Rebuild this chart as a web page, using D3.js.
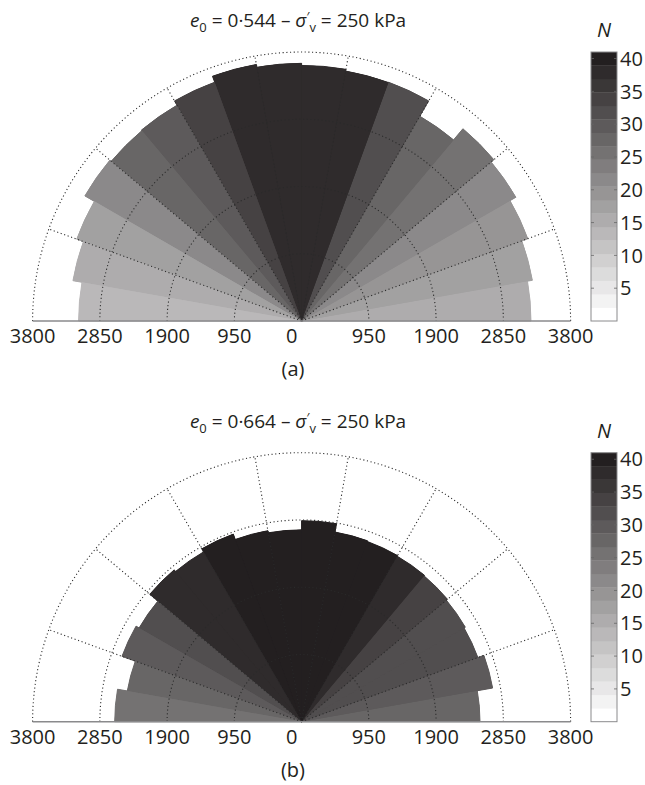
<!DOCTYPE html>
<html><head><meta charset="utf-8">
<script src="https://cdn.jsdelivr.net/npm/d3@7"></script>
<style>
body{margin:0;background:#fff}
text{font-family:'Open Sans',sans-serif;fill:#231f20}
</style>
</head><body>
<svg id="chart" width="645" height="785"></svg>
<script>
// ---- data ----
const binEdges = [0,10,20,30,40,50,60,70,80,90,100,110,120,130,140,150,160,170,180];
const radiusA = [3240,3310,3400,3495,3545,3340,3590,3585,3610,3640,3680,3590,3520,3510,3535,3380,3280,3150];
const countA  = [15,17,19,21,25,27,32,38,38,38,38,33,29,27,21,17,16,14];
const radiusB = [2520,2740,2650,2670,2690,2700,2710,2720,2840,2710,2740,2820,2770,2800,2650,2700,2500,2640];
const countB  = [27,29,31,32,34,37,40,40,40,40,40,40,38,38,32,30,28,26];
const ringValues = [950,1900,2850,3800];
const spokeAngles = [20,40,60,80,100,120,140,160];
const axisTicks = [-3800,-2850,-1900,-950,0,950,1900,2850,3800];
const cbTicks = [5,10,15,20,25,30,35,40];
const cbDomain = [0,41];
const e0Values = ['0·544','0·664'];
const panelLabels = ['(a)','(b)'];

const svg = d3.select('#chart');
const R = 269, cx = 301.6;
const nBands = 20;
const grays = d3.range(nBands).map(k => d3.interpolateRgb('#ffffff','#231f20')(k/(nBands-1)));
const color = d3.scaleQuantize().domain(cbDomain).range(grays);
const rScale = d3.scaleLinear().domain([0,3800]).range([0,R]);
const xScale = d3.scaleLinear().domain([-3800,3800]).range([cx-R, cx+R]);
const rad = d => d*Math.PI/180;

function panel(cy, radii, counts, e0, lab){
  const g = svg.append('g');
  const data = radii.map((r,i)=>({a0:binEdges[i], a1:binEdges[i+1], r, n:counts[i]}));
  const arc = d3.arc().innerRadius(0).outerRadius(d=>rScale(d.r))
     .startAngle(d=>rad(90-d.a1)).endAngle(d=>rad(90-d.a0));
  const sg = g.append('g').attr('transform',`translate(${cx},${cy})`);
  sg.selectAll('path.under').data(data).join('path').attr('class','under')
    .attr('d',arc).attr('fill',d=>color(d.n)).attr('stroke',d=>color(d.n))
    .attr('stroke-width',1).attr('stroke-linejoin','miter');
  sg.selectAll('path.sec').data(data).join('path').attr('class','sec')
    .attr('d',arc).attr('fill',d=>color(d.n));

  ringValues.forEach(v=>{
    const p = d3.path(); p.arc(cx,cy,rScale(v),Math.PI,2*Math.PI);
    g.append('path').attr('d',p.toString()).attr('fill','none')
      .attr('stroke','#2a2a2a').attr('stroke-width',1.1).attr('stroke-dasharray','1.1,2.6');
  });
  spokeAngles.forEach(a=>{
    g.append('line').attr('x1',cx).attr('y1',cy)
      .attr('x2',cx+rScale(3800)*Math.cos(rad(a))).attr('y2',cy-rScale(3800)*Math.sin(rad(a)))
      .attr('stroke','#2a2a2a').attr('stroke-width',1.1).attr('stroke-dasharray','1.1,2.6');
  });
  g.append('line').attr('x1',xScale(-3800)).attr('x2',xScale(3800)).attr('y1',cy).attr('y2',cy)
    .attr('stroke','#8a8a8c').attr('stroke-width',1.5);
  g.selectAll('text.ax').data(axisTicks).join('text').attr('class','ax')
    .attr('x',d=>xScale(d) + (d===0?-10:0)).attr('y',cy+22)
    .attr('text-anchor','middle').attr('font-size',20)
    .text(d=>Math.abs(d));
  g.append('text').attr('x',293).attr('y',cy+55).attr('text-anchor','middle')
    .attr('font-size',20).text(lab);
  const t = g.append('text').attr('x',298).attr('y',cy-294).attr('text-anchor','middle').attr('font-size',19);
  t.append('tspan').attr('font-style','italic').text('e');
  t.append('tspan').attr('font-size',13).attr('dy',5).text('0');
  t.append('tspan').attr('dy',-5).text(` = ${e0} – `);
  t.append('tspan').attr('font-style','italic').text('σ');
  t.append('tspan').attr('font-size',13).attr('dy',-6).text('′');
  t.append('tspan').attr('font-size',13).attr('dy',11).text('v');
  t.append('tspan').attr('dy',-5).text(' = 250 kPa');

  const cbX = 591, cbW = 26;
  const cbY = d3.scaleLinear().domain(cbDomain).range([cy, cy-R]);
  const bandW = (cbDomain[1]-cbDomain[0])/nBands;
  const bands = d3.range(nBands);
  g.selectAll('rect.band').data(bands).join('rect').attr('class','band')
    .attr('x',cbX).attr('width',cbW)
    .attr('y',k=>cbY(cbDomain[0]+(k+1)*bandW)).attr('height',k=>cbY(cbDomain[0]+k*bandW)-cbY(cbDomain[0]+(k+1)*bandW)+0.3)
    .attr('fill',k=>grays[k]);
  g.append('rect').attr('x',cbX).attr('y',cy-R).attr('width',cbW).attr('height',R)
    .attr('fill','none').attr('stroke','#8a8a8c').attr('stroke-width',1);
  cbTicks.forEach(v=>{
    g.append('line').attr('x1',cbX).attr('x2',cbX+3).attr('y1',cbY(v)).attr('y2',cbY(v)).attr('stroke','#666').attr('stroke-width',0.8);
    g.append('line').attr('x1',cbX+cbW-3).attr('x2',cbX+cbW).attr('y1',cbY(v)).attr('y2',cbY(v)).attr('stroke','#666').attr('stroke-width',0.8);
    g.append('text').attr('x',cbX+cbW+3).attr('y',cbY(v)).attr('dy','0.36em').attr('font-size',20).text(v);
  });
  g.append('text').attr('x',cbX+cbW/2).attr('y',cy-R-15).attr('text-anchor','middle')
    .attr('font-size',20).attr('font-style','italic').text('N');
}

panel(321, radiusA, countA, e0Values[0], panelLabels[0]);
panel(721.7, radiusB, countB, e0Values[1], panelLabels[1]);
</script>
</body></html>
